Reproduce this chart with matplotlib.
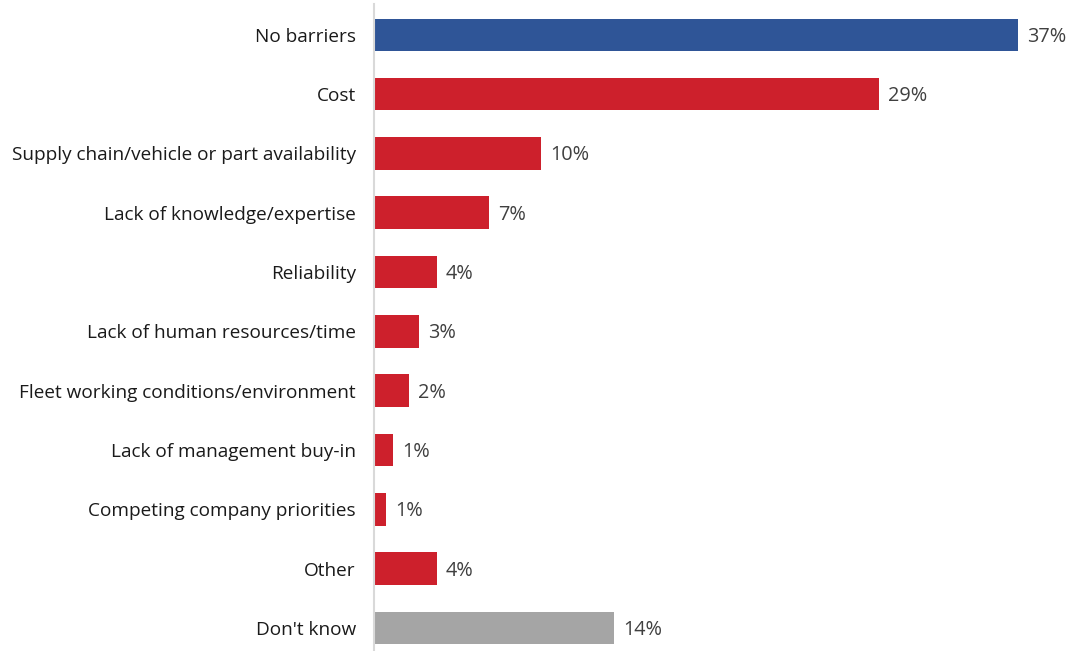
import matplotlib
matplotlib.use("Agg")
import matplotlib.pyplot as plt
from matplotlib.transforms import offset_copy

categories = [
    "No barriers",
    "Cost",
    "Supply chain/vehicle or part availability",
    "Lack of knowledge/expertise",
    "Reliability",
    "Lack of human resources/time",
    "Fleet working conditions/environment",
    "Lack of management buy-in",
    "Competing company priorities",
    "Other",
    "Don't know",
]
values = [37.0, 29.0, 9.6, 6.6, 3.6, 2.6, 2.0, 1.1, 0.7, 3.6, 13.8]
colors = ["#2F5597"] + ["#CD202C"] * 9 + ["#A5A5A5"]

plt.rcParams["font.family"] = ["Open Sans", "DejaVu Sans"]

W, H = 1070, 651
fig = plt.figure(figsize=(W / 100, H / 100), dpi=100)
ax = fig.add_axes([374 / W, 0, 1 - 374 / W, 1 - 4 / H])

ypos = list(range(len(categories)))
ax.barh(ypos, values, height=0.55, color=colors, zorder=2)

ax.set_xlim(0, 40)
ax.set_ylim(10.39, -0.52)

for s in ["top", "right", "bottom"]:
    ax.spines[s].set_visible(False)
ax.spines["left"].set_color("#D9D9D9")
ax.spines["left"].set_linewidth(1.5)
ax.set_xticks([])
ax.set_yticks(ypos)
ax.set_yticklabels(categories, fontsize=13.7, color="#1A1A1A")
ax.tick_params(axis="y", length=0, pad=13)

lbl_tr = offset_copy(ax.transData, fig=fig, x=9, y=-2, units="dots")
for y, v in zip(ypos, values):
    ax.text(v, y, f"{round(v):d}%", transform=lbl_tr, ha="left", va="center",
            fontsize=14.3, color="#404040")

fig.savefig("out.png", dpi=100)
